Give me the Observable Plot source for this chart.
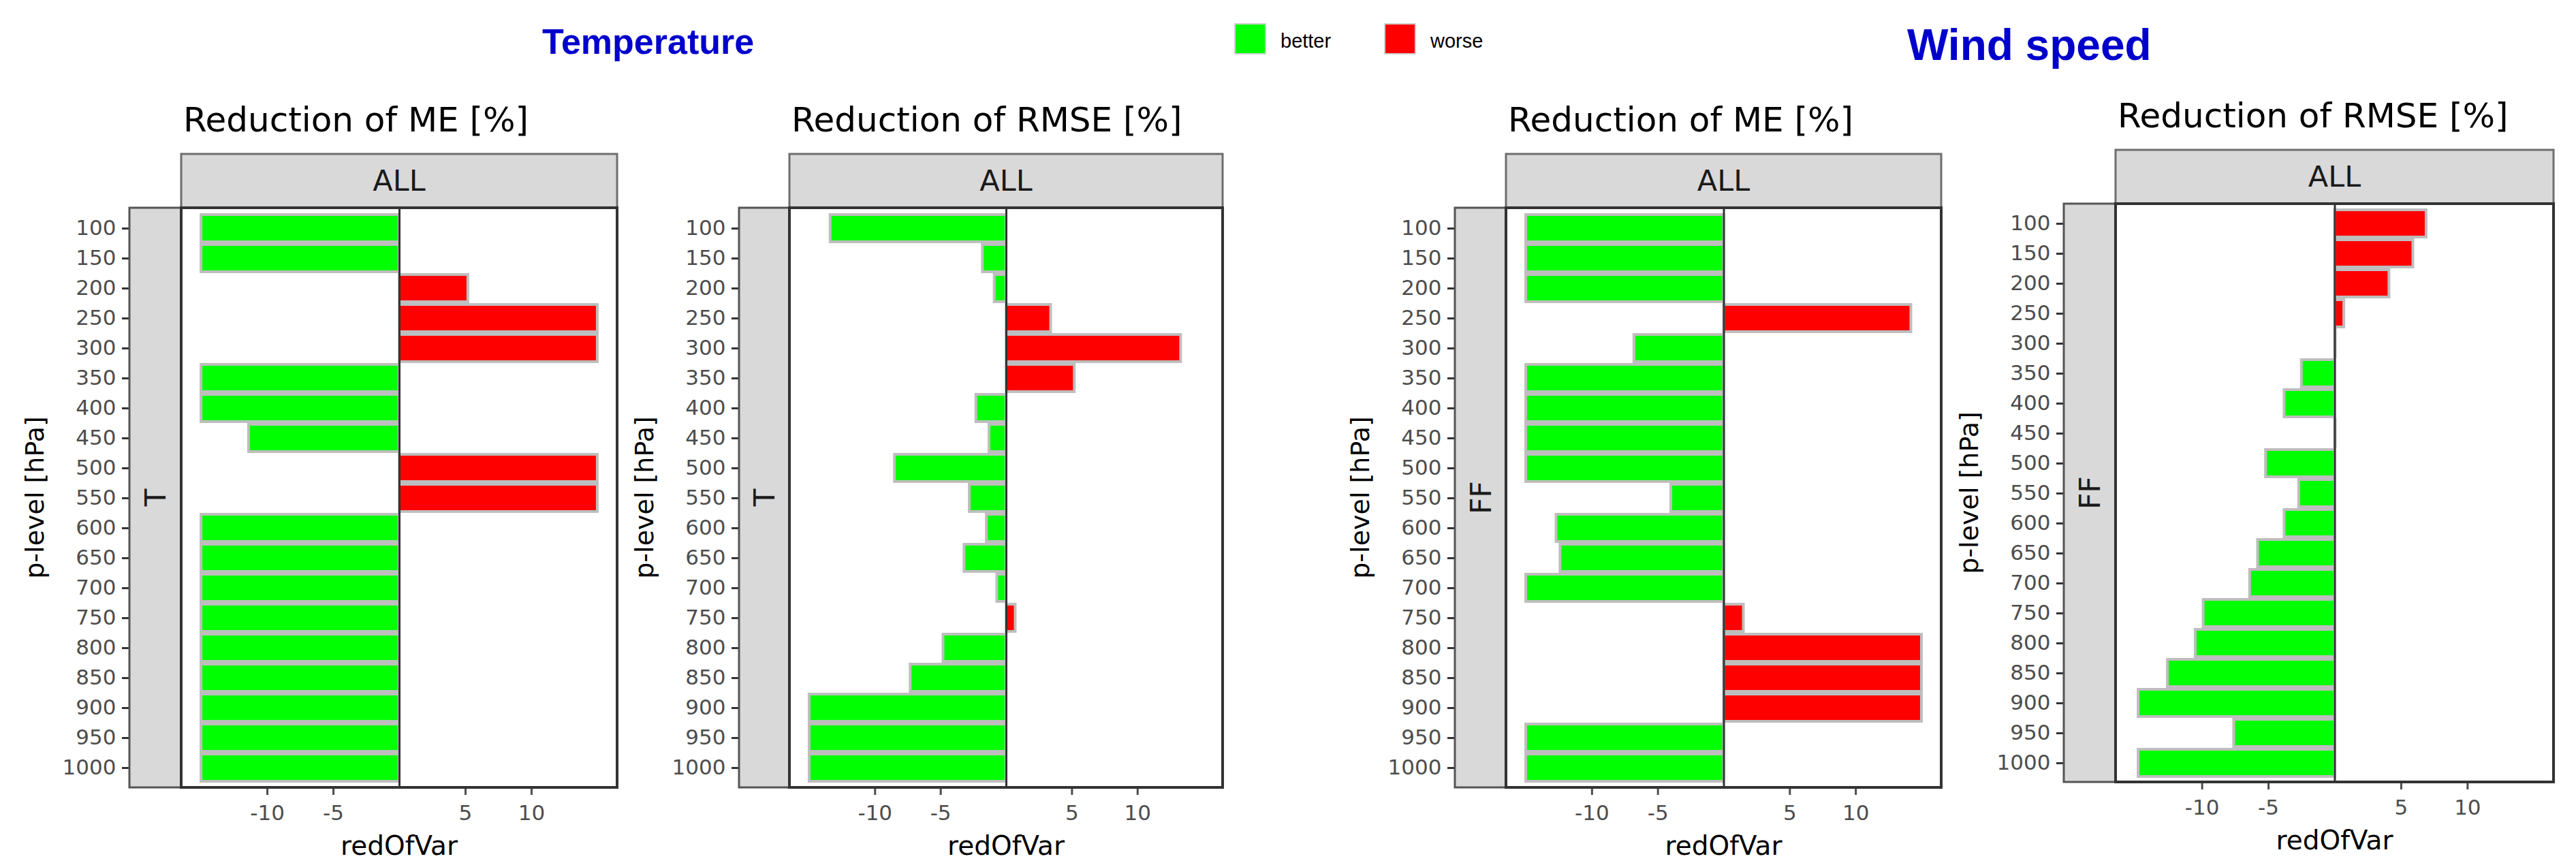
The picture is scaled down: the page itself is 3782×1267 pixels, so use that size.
<!DOCTYPE html>
<html><head><meta charset="utf-8">
<script src="https://cdn.jsdelivr.net/npm/d3@7"></script>
<script src="https://cdn.jsdelivr.net/npm/@observablehq/plot@0.6"></script>
<style>
html,body{margin:0;padding:0;background:#fff;}
#root{position:relative;width:3782px;height:1267px;overflow:hidden;background:#fff;}
#root > svg{position:absolute;top:0;}
</style></head><body><div id="root"></div>
<script>
// ---------------- data ----------------
const levels = [100,150,200,250,300,350,400,450,500,550,600,650,700,750,800,850,900,950,1000];
const tempME   = [-15,-15,5.2,15,15,-15,-15,-11.4,15,15,-15,-15,-15,-15,-15,-15,-15,-15,-15];
const tempRMSE = [-13.4,-1.8,-0.9,3.4,13.3,5.2,-2.3,-1.3,-8.5,-2.8,-1.5,-3.2,-0.7,0.7,-4.8,-7.3,-15,-15,-15];
const windME   = [-15,-15,-15,14.2,-6.8,-15,-15,-15,-15,-4.0,-12.7,-12.4,-15,1.5,15,15,15,-15,-15];
const windRMSE = [6.9,5.9,4.1,0.7,0.05,-2.5,-3.8,0.05,-5.2,-2.7,-3.8,-5.8,-6.4,-9.9,-10.5,-12.6,-14.8,-7.6,-14.8];
const xTicks = [-10,-5,5,10];
const panelTitles = ["Reduction of ME [%]","Reduction of RMSE [%]","Reduction of ME [%]","Reduction of RMSE [%]"];
const panelVariables = ["T","T","FF","FF"];
const stripLabel = "ALL";
const groupTitles = ["Temperature","Wind speed"];
const legendLabels = ["better","worse"];
const legendColors = ["#00ff00","#ff0000"];
const xLabel = "redOfVar";
const yLabel = "p-level [hPa]";
const seriesList = [tempME, tempRMSE, windME, windRMSE];

// ---------------- layout ----------------
const H = 1267;
const layouts = [
  {svgLeft:0,    svgRight:920,  stripLeft:190,  frameLeft:266,  frameRight:906,  frameTop:305, frameBottom:1156},
  {svgLeft:920,  svgRight:1830, stripLeft:1085, frameLeft:1159, frameRight:1795, frameTop:305, frameBottom:1156},
  {svgLeft:1830, svgRight:2870, stripLeft:2136, frameLeft:2211, frameRight:2850, frameTop:305, frameBottom:1156},
  {svgLeft:2870, svgRight:3782, stripLeft:3030, frameLeft:3106, frameRight:3749, frameTop:299, frameBottom:1148}
];
const FONT = "DejaVu Sans";
const root = document.getElementById("root");

layouts.forEach((L, k) => {
  const W = L.svgRight - L.svgLeft;
  const data = levels.map((lev, i) => ({level: lev, value: seriesList[k][i]}));
  const fl = L.frameLeft - L.svgLeft, fr = L.frameRight - L.svgLeft, sl = L.stripLeft - L.svgLeft;
  const svg = Plot.plot({
    width: W, height: H,
    marginLeft: sl, marginRight: L.svgRight - L.frameRight,
    marginTop: L.frameTop, marginBottom: H - L.frameBottom,
    style: {fontFamily: FONT, fontSize: "31px", background: "transparent", overflow: "visible"},
    x: {domain: [-16.5, 16.5], range: [fl, fr]},
    y: {type: "band", domain: levels, paddingInner: 0.1, paddingOuter: 0.15},
    color: {domain: legendLabels, range: legendColors},
    marks: [
      Plot.barX(data, {x: "value", y: "level", fill: d => d.value > 0 ? "worse" : "better", stroke: "#bebebe", strokeWidth: 4}),
      Plot.ruleX([0], {stroke: "#333", strokeWidth: 3}),
      Plot.axisY({tickSize: 11, tickPadding: 9, tickFormat: d => `${d}`, stroke: "#333", strokeWidth: 3, fill: "#4d4d4d", label: null}),
      Plot.axisX(xTicks, {tickSize: 11, tickPadding: 14, tickFormat: d => `${d}`, stroke: "#4d4d4d", strokeWidth: 3, fill: "#4d4d4d", label: null})
    ]
  });
  svg.style.left = L.svgLeft + "px";
  const s = d3.select(svg);
  const ft = L.frameTop, fb = L.frameBottom;
  // strip on top
  s.append("rect").attr("x", fl).attr("y", ft - 79).attr("width", fr - fl).attr("height", 79)
    .attr("fill", "#d9d9d9").attr("stroke", "#6e6e6e").attr("stroke-width", 3);
  s.append("text").attr("x", (fl + fr) / 2).attr("y", ft - 25).attr("text-anchor", "middle")
    .attr("font-family", FONT).attr("font-size", 43).attr("fill", "#1a1a1a").text(stripLabel);
  // strip on left
  s.append("rect").attr("x", sl).attr("y", ft).attr("width", fl - sl).attr("height", fb - ft)
    .attr("fill", "#d9d9d9").attr("stroke", "#555").attr("stroke-width", 3);
  s.append("text").attr("transform", `translate(${(sl + fl) / 2 + 15},${(ft + fb) / 2}) rotate(-90)`)
    .attr("text-anchor", "middle").attr("font-family", FONT).attr("font-size", 42).attr("fill", "#1a1a1a")
    .text(panelVariables[k]);
  // panel border
  s.append("rect").attr("x", fl).attr("y", ft).attr("width", fr - fl).attr("height", fb - ft)
    .attr("fill", "none").attr("stroke", "#333").attr("stroke-width", 4);
  // panel title
  s.append("text").attr("x", fl + 3).attr("y", ft - 112).attr("text-anchor", "start")
    .attr("font-family", FONT).attr("font-size", 50).attr("fill", "#000").text(panelTitles[k]);
  // axis titles
  s.append("text").attr("x", (fl + fr) / 2).attr("y", fb + 99).attr("text-anchor", "middle")
    .attr("font-family", FONT).attr("font-size", 39).attr("fill", "#000").text(xLabel);
  s.append("text").attr("transform", `translate(${sl - 126},${(ft + fb) / 2}) rotate(-90)`)
    .attr("text-anchor", "middle").attr("font-family", FONT).attr("font-size", 38).attr("fill", "#000")
    .text(yLabel);
  root.appendChild(svg);
});

// ---------------- overlay: group titles and legend ----------------
const ov = d3.select(root).append("svg").attr("width", 3782).attr("height", H).style("left", "0px")
  .style("pointer-events", "none");
ov.append("text").attr("x", 796).attr("y", 79).attr("font-family", "Liberation Sans").attr("font-weight", "bold")
  .attr("font-size", 52).attr("fill", "#0000cc").text(groupTitles[0]);
ov.append("text").attr("x", 2800).attr("y", 88).attr("font-family", "Liberation Sans").attr("font-weight", "bold")
  .attr("font-size", 64).attr("fill", "#0000cc").text(groupTitles[1]);
const legendX = [1813, 2033];
legendLabels.forEach((lab, i) => {
  ov.append("rect").attr("x", legendX[i]).attr("y", 35).attr("width", 45).attr("height", 44)
    .attr("fill", legendColors[i]).attr("stroke", "#cfcfcf").attr("stroke-width", 2);
  ov.append("text").attr("x", legendX[i] + 67).attr("y", 70).attr("font-family", "Liberation Sans")
    .attr("font-size", 29).attr("fill", "#000").text(lab);
});
</script></body></html>
